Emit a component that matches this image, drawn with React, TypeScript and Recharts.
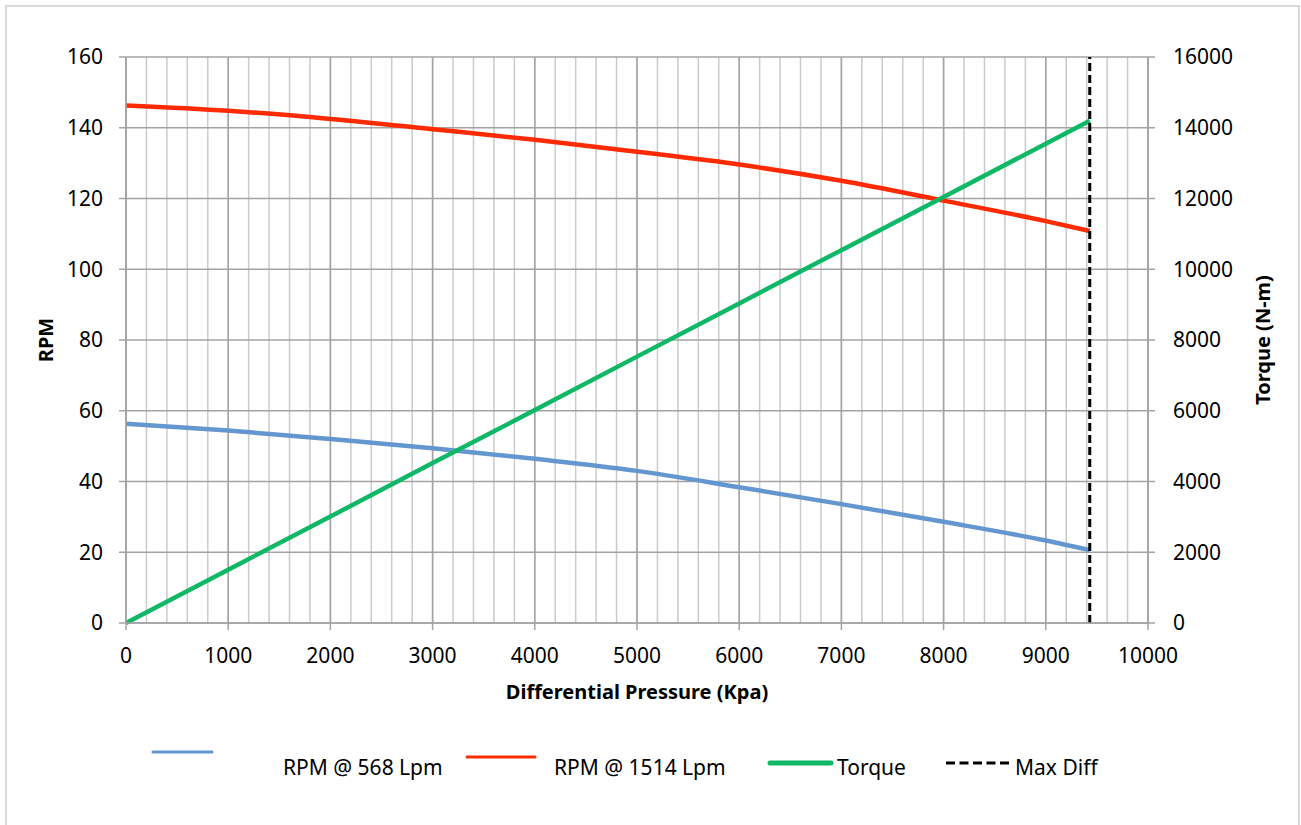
import React from 'react';
import {
  LineChart,
  Line,
  XAxis,
  YAxis,
  CartesianGrid
} from 'recharts';

// values
const pressure = [0, 1000, 2000, 3000, 4000, 5000, 6000, 7000, 8000, 9000, 9430];
const rpm568 = [56.3, 54.4, 52.0, 49.4, 46.4, 43.0, 38.4, 33.6, 28.6, 23.3, 20.6];
const rpm1514 = [146.3, 144.8, 142.5, 139.6, 136.6, 133.2, 129.6, 125.0, 119.4, 113.6, 110.8];
const torque = [0, 1505, 3010, 4520, 6020, 7530, 9035, 10540, 12045, 13550, 14200];

const maxDiffPressure = [9430, 9430];
const maxDiffRpm = [0, 160];

const xTicks = [0, 1000, 2000, 3000, 4000, 5000, 6000, 7000, 8000, 9000, 10000];
const rpmTicks = [0, 20, 40, 60, 80, 100, 120, 140, 160];
const torqueTicks = [0, 2000, 4000, 6000, 8000, 10000, 12000, 14000, 16000];
const minorTicks = Array.from({ length: 51 }, (_, i) => i * 200);

const data = pressure.map((p, i) => ({
  pressure: p,
  rpm568: rpm568[i],
  rpm1514: rpm1514[i],
  torque: torque[i]
}));

const maxDiffData = maxDiffPressure.map((p, i) => ({ pressure: p, rpm: maxDiffRpm[i] }));

const FONT = '"Noto Sans", sans-serif';
const BLUE = '#6497cf';
const RED = '#ff2a00';
const GREEN = '#0fb866';
const GRID_MAJOR = '#a3a3a3';
const GRID_MINOR = '#cbcbcb';

const tickStyle = { fontSize: 21, fill: '#000', fontFamily: FONT };

const LeftTitle = ({ viewBox }: any) => {
  const x = viewBox.x + 45;
  const y = viewBox.y + viewBox.height / 2;
  return (
    <text x={x} y={y} transform={`rotate(-90 ${x} ${y})`} textAnchor="middle"
      dominantBaseline="central" fontWeight="bold" fontSize={20} fontFamily={FONT} fill="#000">
      RPM
    </text>
  );
};

const RightTitle = ({ viewBox }: any) => {
  const x = viewBox.x + 114;
  const y = viewBox.y + viewBox.height / 2;
  return (
    <text x={x} y={y} transform={`rotate(-90 ${x} ${y})`} textAnchor="middle"
      dominantBaseline="central" fontWeight="bold" fontSize={20} fontFamily={FONT} fill="#000">
      Torque (N-m)
    </text>
  );
};

const BottomTitle = ({ viewBox }: any) => (
  <text x={viewBox.x + viewBox.width / 2} y={viewBox.y + 68} textAnchor="middle"
    dominantBaseline="central" fontWeight="bold" fontSize={20} fontFamily={FONT} fill="#000">
    Differential Pressure (Kpa)
  </text>
);

// legend placement (Excel spacing is uneven)
const legendItems = [
  { name: 'RPM @ 568 Lpm', color: BLUE, x1: 153, x2: 212, y: 752, w: 3, dash: '', tx: 283 },
  { name: 'RPM @ 1514 Lpm', color: RED, x1: 467, x2: 535, y: 757, w: 3, dash: '', tx: 554 },
  { name: 'Torque', color: GREEN, x1: 770, x2: 831, y: 763, w: 5, dash: '', tx: 837 },
  { name: 'Max Diff', color: '#000', x1: 946, x2: 1009, y: 763, w: 3, dash: '9 4.5', tx: 1015 }
];

function ChartLegend() {
  return (
    <svg width={1301} height={825} style={{ position: 'absolute', left: 0, top: 0, pointerEvents: 'none' }}>
      {legendItems.map((item) => (
        <g key={item.name}>
          <line x1={item.x1} x2={item.x2} y1={item.y} y2={item.y} stroke={item.color}
            strokeWidth={item.w} strokeDasharray={item.dash || undefined}
            strokeLinecap={item.dash ? 'butt' : 'round'} />
          <text x={item.tx} y={767} dominantBaseline="central" fontSize={21} fontFamily={FONT} fill="#000">
            {item.name}
          </text>
        </g>
      ))}
    </svg>
  );
}

export default function App() {
  return (
    <div style={{ position: 'absolute', left: 0, top: 0, width: 1301, height: 825, overflow: 'hidden', background: '#fff', fontFamily: FONT }}>
      <div style={{ position: 'absolute', left: 5, top: 5, width: 1291, height: 840, border: '2px solid #d9d9d9' }} />
      <LineChart width={1301} height={825} data={data} margin={{ top: 57, right: 0, bottom: 0, left: 0 }}>
        <XAxis xAxisId="minor" dataKey="pressure" type="number" domain={[0, 10000]} ticks={minorTicks} interval={0} hide />
        <CartesianGrid xAxisId="minor" yAxisId="left" horizontal={false} stroke={GRID_MINOR} strokeWidth={1.5} />
        <CartesianGrid xAxisId="main" yAxisId="left" stroke={GRID_MAJOR} strokeWidth={1.5} />
        <XAxis
          xAxisId="main"
          dataKey="pressure"
          type="number"
          domain={[0, 10000]}
          ticks={xTicks}
          interval={0}
          height={202}
          tickSize={7}
          tickMargin={18}
          tick={tickStyle}
          axisLine={{ stroke: GRID_MAJOR, strokeWidth: 1.5 }}
          tickLine={{ stroke: GRID_MAJOR, strokeWidth: 1.5 }}
          label={BottomTitle}
        />
        <YAxis
          yAxisId="left"
          domain={[0, 160]}
          ticks={rpmTicks}
          interval={0}
          width={126}
          tickSize={7}
          tickMargin={16}
          tick={tickStyle}
          axisLine={{ stroke: GRID_MAJOR, strokeWidth: 1.5 }}
          tickLine={{ stroke: GRID_MAJOR, strokeWidth: 1.5 }}
          label={LeftTitle}
        />
        <YAxis
          yAxisId="right"
          orientation="right"
          domain={[0, 16000]}
          ticks={torqueTicks}
          interval={0}
          width={153}
          tickSize={7}
          tickMargin={18}
          tick={tickStyle}
          axisLine={{ stroke: GRID_MAJOR, strokeWidth: 1.5 }}
          tickLine={{ stroke: GRID_MAJOR, strokeWidth: 1.5 }}
          label={RightTitle}
        />
        <Line xAxisId="main" yAxisId="left" type="monotone" dataKey="rpm568" name="RPM @ 568 Lpm"
          stroke={BLUE} strokeWidth={4.5} dot={false} isAnimationActive={false} />
        <Line xAxisId="main" yAxisId="left" type="monotone" dataKey="rpm1514" name="RPM @ 1514 Lpm"
          stroke={RED} strokeWidth={4.5} dot={false} isAnimationActive={false} />
        <Line xAxisId="main" yAxisId="right" type="linear" dataKey="torque" name="Torque"
          stroke={GREEN} strokeWidth={4.5} dot={false} isAnimationActive={false} />
        <Line xAxisId="main" yAxisId="left" type="linear" data={maxDiffData} dataKey="rpm" name="Max Diff"
          stroke="#000" strokeWidth={3} strokeDasharray="8 4" dot={false} isAnimationActive={false} />
      </LineChart>
      <ChartLegend />
    </div>
  );
}
